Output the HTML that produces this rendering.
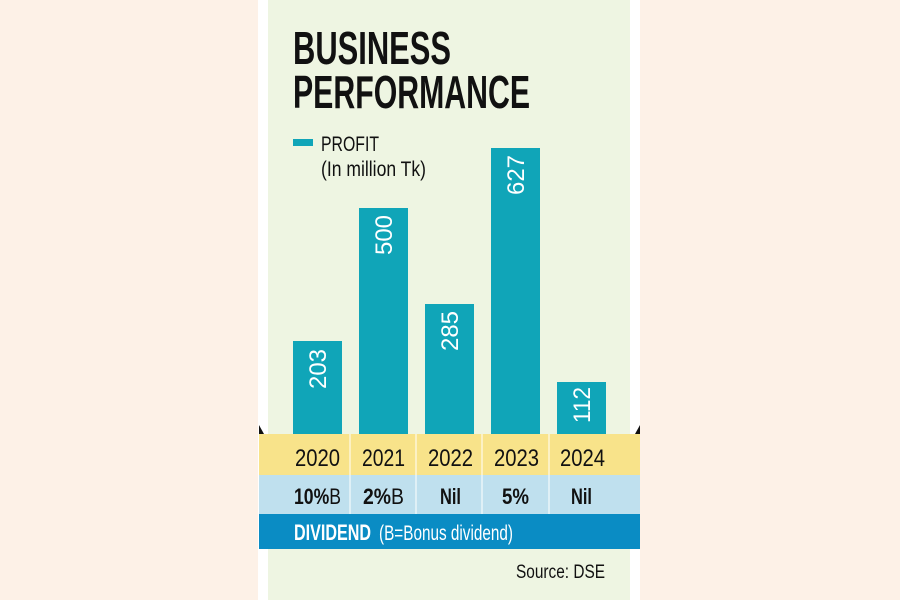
<!DOCTYPE html>
<html><head><style>
html,body{margin:0;padding:0;background:#fdf1e7;}
svg{display:block}
</style></head><body>
<svg width="900" height="600" xmlns="http://www.w3.org/2000/svg" font-family="'Liberation Sans Narrow','Liberation Sans',sans-serif">
<rect width="900" height="600" fill="#fdf1e7"/>
<rect x="258" y="0" width="382" height="600" fill="#ffffff"/>
<rect x="268" y="0" width="362" height="600" fill="#eef5e2"/>
<text x="293" y="64" font-size="46" font-weight="bold" fill="#111" textLength="158" lengthAdjust="spacingAndGlyphs">BUSINESS</text>
<text x="293" y="108" font-size="46" font-weight="bold" fill="#111" textLength="237" lengthAdjust="spacingAndGlyphs">PERFORMANCE</text>
<rect x="293" y="139" width="20" height="7" fill="#10a5b8"/>
<text x="321" y="151" font-size="21" fill="#111" textLength="58" lengthAdjust="spacingAndGlyphs">PROFIT</text>
<text x="321" y="176" font-size="21" fill="#111" textLength="105" lengthAdjust="spacingAndGlyphs">(In million Tk)</text>
<g fill="#10a5b8">
<rect x="293" y="341" width="49" height="93"/>
<rect x="359" y="208" width="49" height="226"/>
<rect x="425" y="304" width="49" height="130"/>
<rect x="491" y="148" width="49" height="286"/>
<rect x="557" y="382" width="49" height="52"/>
</g>
<g fill="#fff" font-size="24" text-anchor="middle" lengthAdjust="spacingAndGlyphs">
<text transform="translate(326,369) rotate(-90)" textLength="40" lengthAdjust="spacingAndGlyphs">203</text>
<text transform="translate(392,235) rotate(-90)" textLength="40" lengthAdjust="spacingAndGlyphs">500</text>
<text transform="translate(458,331) rotate(-90)" textLength="40" lengthAdjust="spacingAndGlyphs">285</text>
<text transform="translate(524,175) rotate(-90)" textLength="40" lengthAdjust="spacingAndGlyphs">627</text>
<text transform="translate(590,405) rotate(-90)" textLength="36" lengthAdjust="spacingAndGlyphs">112</text>
</g>
<polygon points="259,425 264,434 259,434" fill="#111"/>
<polygon points="640,425 635,434 640,434" fill="#111"/>
<rect x="259" y="434" width="381" height="41" fill="#f8e38a"/>
<rect x="259" y="475" width="381" height="39" fill="#bfe0ee"/>
<rect x="259" y="514" width="381" height="35" fill="#0a8cc4"/>
<g stroke="#fff" stroke-width="1">
<line x1="350" y1="434" x2="350" y2="514"/><line x1="416" y1="434" x2="416" y2="514"/>
<line x1="482" y1="434" x2="482" y2="514"/><line x1="549" y1="434" x2="549" y2="514"/>
</g>
<g font-size="24" fill="#111">
<text x="295" y="466" textLength="45" lengthAdjust="spacingAndGlyphs">2020</text>
<text x="362" y="466" textLength="43" lengthAdjust="spacingAndGlyphs">2021</text>
<text x="428" y="466" textLength="45" lengthAdjust="spacingAndGlyphs">2022</text>
<text x="494" y="466" textLength="45" lengthAdjust="spacingAndGlyphs">2023</text>
<text x="560" y="466" textLength="45" lengthAdjust="spacingAndGlyphs">2024</text>
</g>
<g font-size="22" fill="#111" font-weight="bold">
<text x="294" y="504" textLength="47" lengthAdjust="spacingAndGlyphs">10%<tspan font-weight="normal">B</tspan></text>
<text x="363" y="504" textLength="41" lengthAdjust="spacingAndGlyphs">2%<tspan font-weight="normal">B</tspan></text>
<text x="440" y="504" textLength="21" lengthAdjust="spacingAndGlyphs">Nil</text>
<text x="502" y="504" textLength="27" lengthAdjust="spacingAndGlyphs">5%</text>
<text x="571" y="504" textLength="21" lengthAdjust="spacingAndGlyphs">Nil</text>
</g>
<text x="294" y="540" font-size="22" fill="#fff" font-weight="bold" textLength="77" lengthAdjust="spacingAndGlyphs">DIVIDEND</text>
<text x="379" y="540" font-size="21" fill="#fff" textLength="134" lengthAdjust="spacingAndGlyphs">(B=Bonus dividend)</text>
<text x="516" y="578" font-size="19" fill="#111" textLength="89" lengthAdjust="spacingAndGlyphs">Source: DSE</text>
</svg>
</body></html>
